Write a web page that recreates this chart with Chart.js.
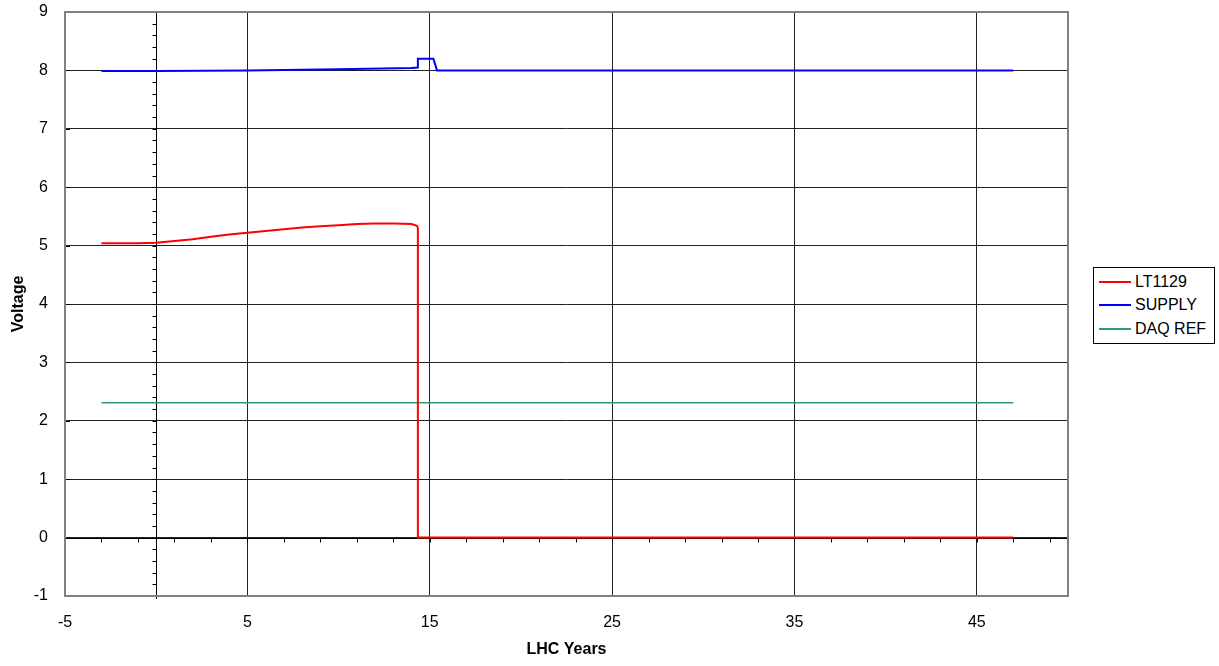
<!DOCTYPE html>
<html lang="en">
<head>
  <meta charset="UTF-8">
  <title>LHC Years - Voltage</title>
  <script src="https://cdn.jsdelivr.net/npm/chart.js"></script>
  <style>
    body {
      margin: 0;
      background: #fff;
      font-family: "Liberation Sans", Arial, sans-serif;
    }
    .wrap {
      position: relative;
      width: 1219px;
      height: 666px;
    }
    .legend {
      position: absolute;
      left: 1093px;
      top: 267px;
      width: 120px;
      border: 1px solid #000;
      padding: 2px 0;
      font-size: 16px;
      background: #fff;
    }
    .legend-row {
      height: 23.6px;
      display: flex;
      align-items: center;
    }
    .legend-line {
      width: 32px;
      height: 2px;
      margin-left: 5px;
      margin-right: 4px;
    }
  </style>
</head>
<body>
  <div class="wrap">
    <canvas id="chart" width="1219" height="666"></canvas>
    <div class="legend" id="legend"></div>
  </div>

  <script>
    // data
    const xTickValues = [-5, 5, 15, 25, 35, 45];

    const seriesNames = ['LT1129', 'SUPPLY', 'DAQ REF'];
    const seriesColors = ['#ff0000', '#0000ff', '#339966'];

    const lt1129X = [-3, -1, 0, 1, 2, 3, 4, 5, 6, 7, 8, 9, 10, 11, 12, 13, 14, 14.3, 14.35, 14.35, 47];
    const lt1129Y = [5.04, 5.04, 5.05, 5.08, 5.11, 5.15, 5.19, 5.22, 5.25, 5.28, 5.31, 5.33, 5.35, 5.37, 5.38, 5.38, 5.37, 5.34, 5.3, 0, 0];

    const supplyX = [-3, 0, 5, 10, 14, 14.35, 14.35, 15.2, 15.4, 47];
    const supplyY = [7.99, 7.99, 8.0, 8.02, 8.04, 8.05, 8.2, 8.2, 8.0, 8.0];

    const daqX = [-3, 47];
    const daqY = [2.31, 2.31];

    function pts(xs, ys) {
      return xs.map((x, i) => ({ x: x, y: ys[i] }));
    }

    const FONT = '"Liberation Sans", Arial, sans-serif';

    // axes crossing at 0 with minor ticks, plus plot border
    const axesPlugin = {
      id: 'axes',
      beforeDatasetsDraw(chart) {
        const ctx = chart.ctx;
        const a = chart.chartArea;
        const xs = chart.scales.x, ys = chart.scales.y;
        const x0 = Math.round(xs.getPixelForValue(0)) + 0.5;
        const y0 = Math.round(ys.getPixelForValue(0)) + 0.5;
        ctx.save();
        ctx.strokeStyle = '#000';
        ctx.lineWidth = 1;
        ctx.beginPath();
        ctx.moveTo(x0, a.top);
        ctx.lineTo(x0, a.bottom + 3);
        ctx.moveTo(a.left, y0);
        ctx.lineTo(a.right, y0);
        // y minor ticks every 0.2
        for (let v = -1; v <= 9.001; v += 0.2) {
          const py = Math.round(ys.getPixelForValue(v)) + 0.5;
          ctx.moveTo(x0 - 4, py);
          ctx.lineTo(x0, py);
        }
        // x minor ticks every 2
        for (let v = -3; v < 50; v += 2) {
          const px = Math.round(xs.getPixelForValue(v)) + 0.5;
          ctx.moveTo(px, y0);
          ctx.lineTo(px, y0 + 4);
        }
        // small ticks at the left border
        for (let v = -1; v <= 9; v++) {
          const py = Math.round(ys.getPixelForValue(v)) + 0.5;
          ctx.moveTo(a.left, py);
          ctx.lineTo(a.left + 5, py);
        }
        ctx.stroke();
        ctx.restore();
      },
      afterDraw(chart) {
        const ctx = chart.ctx;
        const a = chart.chartArea;
        ctx.save();
        ctx.strokeStyle = '#808080';
        ctx.lineWidth = 2;
        ctx.strokeRect(a.left, a.top, a.right - a.left, a.bottom - a.top);
        ctx.restore();
      }
    };

    const allX = [lt1129X, supplyX, daqX];
    const allY = [lt1129Y, supplyY, daqY];
    const widths = [2, 2, 1.5];

    new Chart(document.getElementById('chart').getContext('2d'), {
      type: 'line',
      data: {
        datasets: seriesNames.map((name, i) => ({
          label: name,
          data: pts(allX[i], allY[i]),
          borderColor: seriesColors[i],
          backgroundColor: seriesColors[i],
          borderWidth: widths[i],
          pointRadius: 0,
          tension: 0,
          fill: false
        }))
      },
      options: {
        responsive: false,
        animation: false,
        devicePixelRatio: 1,
        layout: { padding: { left: 0, top: 12, right: 151, bottom: 0 } },
        plugins: {
          legend: { display: false },
          tooltip: { enabled: false }
        },
        scales: {
          x: {
            type: 'linear',
            min: -5,
            max: 50,
            afterBuildTicks(scale) {
              scale.ticks = xTickValues.map(v => ({ value: v }));
            },
            afterFit(scale) {
              scale.height = 70;
              scale.paddingLeft = 0;
              scale.paddingRight = 0;
            },
            grid: { color: '#222', lineWidth: 1, drawTicks: false },
            border: { display: false },
            ticks: {
              padding: 17,
              maxRotation: 0,
              autoSkip: false,
              color: '#000',
              font: { family: FONT, size: 16 }
            },
            title: {
              display: true,
              text: 'LHC Years',
              color: '#000',
              font: { family: FONT, size: 16, weight: 'bold' },
              padding: { top: 0, bottom: 7 }
            }
          },
          y: {
            min: -1,
            max: 9,
            ticks: {
              stepSize: 1,
              padding: 17,
              color: '#000',
              font: { family: FONT, size: 16 }
            },
            afterFit(scale) {
              scale.width = 65;
              scale.paddingTop = 0;
              scale.paddingBottom = 0;
            },
            grid: { color: '#222', lineWidth: 1, drawTicks: false },
            border: { display: false },
            title: {
              display: true,
              text: 'Voltage',
              color: '#000',
              font: { family: FONT, size: 16, weight: 'bold' },
              padding: { top: 9, bottom: 0 }
            }
          }
        }
      },
      plugins: [axesPlugin]
    });

    // legend as html
    const legend = document.getElementById('legend');
    seriesNames.forEach((name, i) => {
      const row = document.createElement('div');
      row.className = 'legend-row';
      const ln = document.createElement('div');
      ln.className = 'legend-line';
      ln.style.background = seriesColors[i];
      ln.style.height = widths[i] + 'px';
      const tx = document.createElement('span');
      tx.textContent = name;
      row.appendChild(ln);
      row.appendChild(tx);
      legend.appendChild(row);
    });
  </script>
</body>
</html>
